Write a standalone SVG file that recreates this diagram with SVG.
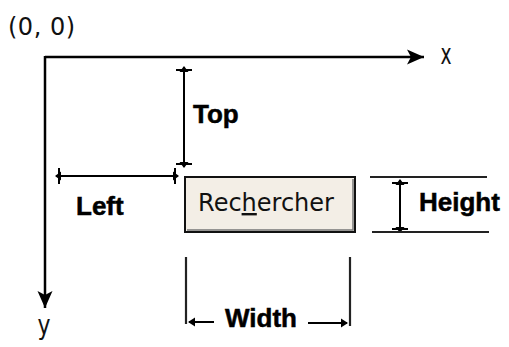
<svg xmlns="http://www.w3.org/2000/svg" width="509" height="347" viewBox="0 0 509 347">
<style>
.ln{stroke:#000;stroke-width:2.5;fill:none}
.dl{stroke:#000;stroke-width:2;fill:none}
.ext{stroke:#222;stroke-width:2.2;fill:none}
.thin{font-family:"DejaVu Sans",sans-serif;fill:#111}
.lbl{font-family:"Liberation Sans",Arial,sans-serif;font-weight:bold;font-size:26px;fill:#000;stroke:#000;stroke-width:0.5}
</style>
<defs>
<marker id="axis" viewBox="-19 -9 20 18" markerWidth="20" markerHeight="18" refX="0" refY="0" markerUnits="userSpaceOnUse" orient="auto">
<path d="M0,0 L-17,-7.5 L-13,0 L-17,7.5 Z" fill="#000"/>
</marker>
<marker id="dim" viewBox="-10 -9 12 18" markerWidth="12" markerHeight="18" refX="0" refY="0" markerUnits="userSpaceOnUse" orient="auto-start-reverse">
<path d="M1,0 L-5,-4.5 L-5,4.5 Z" fill="#000"/>
<path d="M-3,-8 V8" stroke="#000" stroke-width="2"/>
</marker>
<marker id="tip" viewBox="-10 -6 12 12" markerWidth="12" markerHeight="12" refX="0" refY="0" markerUnits="userSpaceOnUse" orient="auto">
<path d="M1,0 L-6,-4.5 L-6,4.5 Z" fill="#000"/>
</marker>
</defs>

<g id="connectors">
<line class="ln" x1="45" y1="57" x2="424" y2="57" marker-end="url(#axis)"/>
<line class="ln" x1="45" y1="56" x2="45" y2="308" marker-end="url(#axis)"/>
<line class="dl" x1="184" y1="67" x2="184" y2="167" marker-start="url(#dim)" marker-end="url(#dim)"/>
<line class="dl" x1="56" y1="176" x2="178" y2="176" marker-start="url(#dim)" marker-end="url(#dim)"/>
<line class="dl" x1="400" y1="180" x2="400" y2="232" marker-start="url(#dim)" marker-end="url(#dim)"/>
<line class="ext" x1="370" y1="177" x2="487" y2="177"/>
<line class="ext" x1="372" y1="232" x2="489" y2="232"/>
<line class="ext" x1="186" y1="257" x2="186" y2="324"/>
<line class="ext" x1="350" y1="257" x2="350" y2="326"/>
<line class="dl" x1="214" y1="322" x2="189" y2="322" marker-end="url(#tip)"/>
<line class="dl" x1="308" y1="323" x2="347" y2="323" marker-end="url(#tip)"/>
</g>

<g id="origin">
<text class="thin" x="8" y="35" font-size="24" letter-spacing="0.5">(0, 0)</text>
</g>
<g id="x-label">
<text class="thin" x="446" y="64" font-size="22" text-anchor="middle" transform="translate(446,64) scale(0.85,1.3) translate(-446,-64)">x</text>
</g>
<g id="y-label">
<text class="thin" x="44" y="334" font-size="22" text-anchor="middle" transform="translate(44,334) scale(1,1.2) translate(-44,-334)">y</text>
</g>
<g id="top-label">
<text class="lbl" x="193" y="123">Top</text>
</g>
<g id="left-label">
<text class="lbl" x="76" y="215">Left</text>
</g>
<g id="height-label">
<text class="lbl" x="419" y="211">Height</text>
</g>
<g id="width-label">
<text class="lbl" x="225" y="327">Width</text>
</g>

<g id="button">
<rect x="185" y="177" width="170" height="55" fill="#f3eee6" stroke="#111" stroke-width="2"/>
<path d="M187,230 H353 V179" stroke="#777" stroke-width="1.5" fill="none"/>
<text class="thin" x="266" y="211" font-size="24" text-anchor="middle">Rec<tspan style="text-decoration:underline">h</tspan>ercher</text>
</g>
</svg>
